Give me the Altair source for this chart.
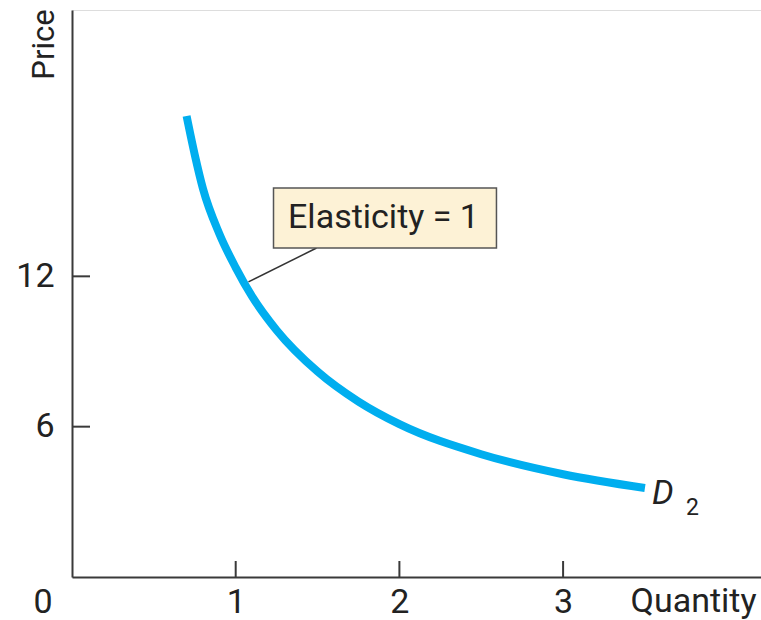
import altair as alt
import pandas as pd

# Demand curve D2 (unit elastic around Q = 1)
quantity = [0.70, 0.75, 0.80, 0.90, 1.00, 1.10, 1.25, 1.50, 1.75, 2.00, 2.50, 3.00, 3.50]
price = [18.4, 16.85, 15.5, 13.7, 12.35, 11.2, 9.85, 8.2, 7.0, 6.1, 4.9, 4.1, 3.55]

x_ticks = [1, 2, 3]
y_ticks = [6, 12]

# Callout box, text anchor and leader line (data units)
box_q = [1.231, 2.593]
box_p = [13.13, 15.53]
note_q, note_p, note_text = 1.903, 14.33, "Elasticity = 1"
leader_q = [1.078, 1.494]
leader_p = [11.78, 13.13]

W, H = 689, 567
Q_MAX, P_MAX = 4.209, 22.63
FONT = "Roboto"
AXIS_COLOR = "#3a3a3a"
CURVE_COLOR = "#00aeef"

xs = alt.Scale(domain=[0, Q_MAX], nice=False, zero=False)
ys = alt.Scale(domain=[0, P_MAX], nice=False, zero=False)

curve_df = pd.DataFrame({"q": quantity, "p": price})

axis_x = alt.Axis(values=x_ticks, format="d", ticks=False, grid=False, domainColor=AXIS_COLOR,
                  domainWidth=2, labelFont=FONT, labelFontSize=34, labelColor="#222",
                  labelPadding=8, title="Quantity", titleFont=FONT, titleFontSize=34,
                  titleFontWeight="normal", titleColor="#222", titleAnchor="start",
                  titleAlign="left", titleBaseline="alphabetic", titleX=558, titleY=34)
axis_y = alt.Axis(values=y_ticks, format="d", ticks=False, grid=False, domainColor=AXIS_COLOR,
                  domainWidth=2, labelFont=FONT, labelFontSize=34, labelColor="#222",
                  labelPadding=18, labelBaseline="middle", title="Price", titleFont=FONT,
                  titleFontSize=31, titleFontWeight="normal", titleColor="#222",
                  titleAngle=270, titleAlign="center", titleBaseline="alphabetic",
                  titleX=-19, titleY=34)

curve = alt.Chart(curve_df).mark_line(
    color=CURVE_COLOR, strokeWidth=8, strokeCap="butt", interpolate="monotone"
).encode(
    x=alt.X("q:Q", scale=xs, axis=axis_x),
    y=alt.Y("p:Q", scale=ys, axis=axis_y),
)

xtick_df = pd.DataFrame({"q": x_ticks})
xtick_marks = alt.Chart(xtick_df).mark_rule(color=AXIS_COLOR, strokeWidth=2).encode(
    x=alt.X("q:Q", scale=xs), y=alt.value(H), y2=alt.value(H - 16)
)
ytick_df = pd.DataFrame({"p": y_ticks})
ytick_marks = alt.Chart(ytick_df).mark_rule(color=AXIS_COLOR, strokeWidth=2).encode(
    y=alt.Y("p:Q", scale=ys), x=alt.value(0), x2=alt.value(18)
)

origin = alt.Chart(pd.DataFrame({"q": [0], "p": [0], "t": ["0"]})).mark_text(
    font=FONT, fontSize=34, color="#222", align="center", baseline="alphabetic",
    dx=-29, dy=36
).encode(x=alt.X("q:Q", scale=xs), y=alt.Y("p:Q", scale=ys), text="t:N")

box_df = pd.DataFrame({"q1": [box_q[0]], "q2": [box_q[1]], "p1": [box_p[0]], "p2": [box_p[1]]})
box = alt.Chart(box_df).mark_rect(fill="#fdf2d6", stroke="#555555", strokeWidth=1.5).encode(
    x=alt.X("q1:Q", scale=xs), x2="q2", y=alt.Y("p1:Q", scale=ys), y2="p2"
)
note = alt.Chart(pd.DataFrame({"q": [note_q], "p": [note_p], "t": [note_text]})).mark_text(
    font=FONT, fontSize=34, color="#222", align="center", baseline="middle"
).encode(x=alt.X("q:Q", scale=xs), y=alt.Y("p:Q", scale=ys), text="t:N")

leader_df = pd.DataFrame({"q": leader_q, "p": leader_p})
leader = alt.Chart(leader_df).mark_line(color="#333333", strokeWidth=1.5).encode(
    x=alt.X("q:Q", scale=xs), y=alt.Y("p:Q", scale=ys)
)

end_df = pd.DataFrame({"q": [quantity[-1]], "p": [price[-1]], "d": ["D"], "s": ["2"]})
d_label = alt.Chart(end_df).mark_text(
    font=FONT, fontSize=34, fontStyle="italic", color="#222", align="left",
    baseline="alphabetic", dx=7, dy=16
).encode(x=alt.X("q:Q", scale=xs), y=alt.Y("p:Q", scale=ys), text="d:N")
d_sub = alt.Chart(end_df).mark_text(
    font=FONT, fontSize=23, color="#222", align="left", baseline="alphabetic",
    dx=41, dy=27
).encode(x=alt.X("q:Q", scale=xs), y=alt.Y("p:Q", scale=ys), text="s:N")

chart = alt.layer(
    curve, xtick_marks, ytick_marks, leader, box, note, origin, d_label, d_sub
).properties(
    width=W, height=H,
    autosize=alt.AutoSizeParams(type="none"),
    padding={"left": 72, "top": 10, "right": 0, "bottom": 43},
).configure_view(stroke=None).configure(background="white")

chart.save("out.html", embed_options={"renderer": "svg", "actions": False})
